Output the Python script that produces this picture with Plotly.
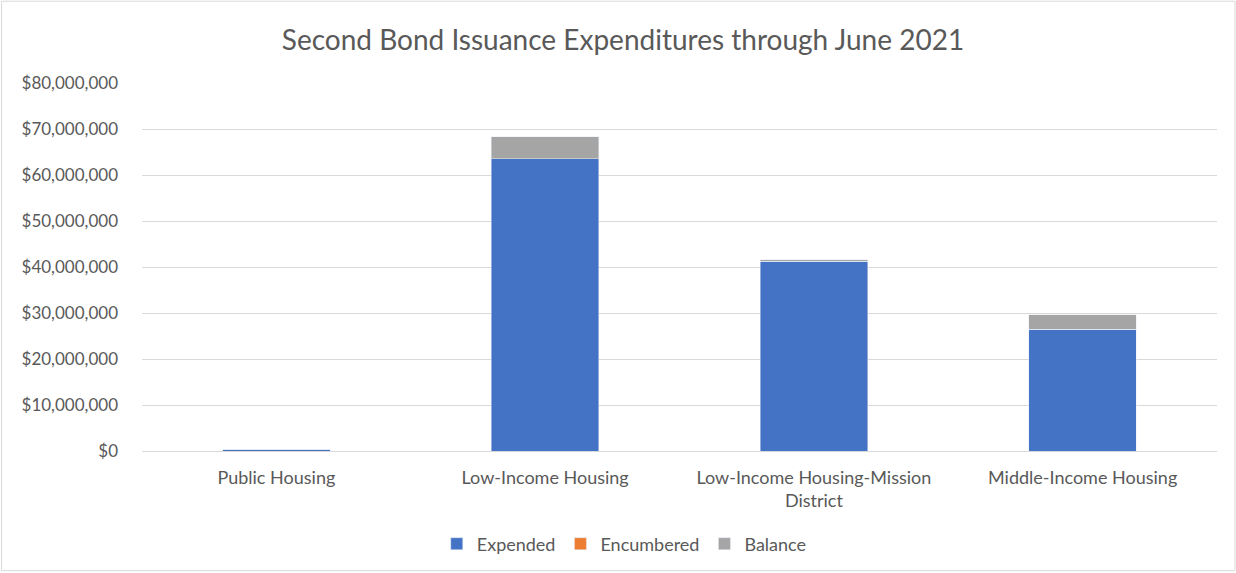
import plotly.graph_objects as go

categories = ["Public Housing", "Low-Income Housing", "Low-Income Housing-Mission<br>District", "Middle-Income Housing"]
expended = [350000, 63500000, 41300000, 26500000]
encumbered = [0, 0, 0, 0]
balance = [0, 4800000, 250000, 3100000]

W, H = 1236, 573
L, R, T, B = 141.5, 19, 83, 121
pw = W - L - R
ph = H - T - B

fig = go.Figure()
fig.add_trace(go.Bar(name="Expended", x=categories, y=expended, marker_color="#4472C4"))
fig.add_trace(go.Bar(name="Encumbered", x=categories, y=encumbered, marker_color="#ED7D31"))
fig.add_trace(go.Bar(name="Balance", x=categories, y=balance, marker_color="#A5A5A5"))

font_family = "Lato, 'Open Sans', sans-serif"
fig.update_layout(
    barmode="stack",
    bargap=0.6,
    width=W, height=H,
    margin=dict(l=L, r=R, t=T, b=B),
    paper_bgcolor="white",
    plot_bgcolor="white",
    font=dict(family=font_family, size=17, color="#595959"),
    title=dict(text="Second Bond Issuance Expenditures through June 2021",
               x=623 / W, xanchor="center", y=1 - 40 / H, yanchor="middle",
               font=dict(size=28, color="#595959", family=font_family)),
    legend=dict(orientation="h", x=(624 - L) / pw, xanchor="center", y=-(544 - (T + ph)) / ph, yanchor="middle",
                font=dict(size=18, color="#595959"), traceorder="normal",
                itemwidth=30, tracegroupgap=0),
    showlegend=True,
    xaxis=dict(showgrid=False, showline=True, linecolor="#d9d9d9", ticks="",
               ticklabelstandoff=10, tickfont=dict(size=18, color="#595959")),
    yaxis=dict(range=[0, 80000000], dtick=10000000, tickformat="$,.0f",
               showgrid=True, gridcolor="#d9d9d9", gridwidth=1, zeroline=False,
               ticks="", ticklabelstandoff=23, tickfont=dict(size=17, color="#595959")),
    shapes=[dict(type="rect", xref="paper", yref="paper",
                 x0=(1 - L) / pw, x1=(W - 1 - L) / pw,
                 y0=-(B - 1) / ph, y1=1 + (T - 1) / ph,
                 line=dict(color="#d9d9d9", width=1), fillcolor="rgba(0,0,0,0)", layer="below")],
)

fig.write_html("out.html", config={"displayModeBar": False},
               post_script="document.body.style.margin='0';document.body.style.overflow='hidden';")
